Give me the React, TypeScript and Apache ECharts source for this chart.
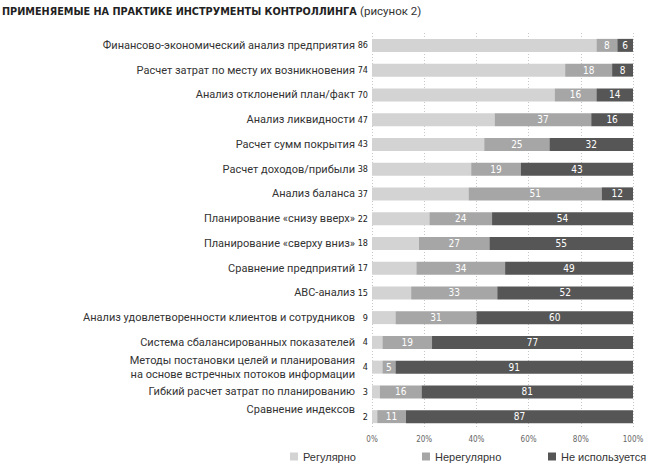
import React, { useEffect, useRef } from "react";
import * as echarts from "echarts";

const categories = [
  "Финансово-экономический анализ предприятия",
  "Расчет затрат по месту их возникновения",
  "Анализ отклонений план/факт",
  "Анализ ликвидности",
  "Расчет сумм покрытия",
  "Расчет доходов/прибыли",
  "Анализ баланса",
  "Планирование «снизу вверх»",
  "Планирование «сверху вниз»",
  "Сравнение предприятий",
  "АВС-анализ",
  "Анализ удовлетворенности клиентов и сотрудников",
  "Система сбалансированных показателей",
  "Методы постановки целей и планирования\nна основе встречных потоков информации",
  "Гибкий расчет затрат по планированию",
  "Сравнение индексов\n",
];

const regular = [86, 74, 70, 47, 43, 38, 37, 22, 18, 17, 15, 9, 4, 4, 3, 2];
const irregular = [8, 18, 16, 37, 25, 19, 51, 24, 27, 34, 33, 31, 19, 5, 16, 11];
const notUsed = [6, 8, 14, 16, 32, 43, 12, 54, 55, 49, 52, 60, 77, 91, 81, 87];

const seriesNames = ["Регулярно", "Нерегулярно", "Не используется"];
const xTicks = [0, 20, 40, 60, 80, 100];

const NUM_FONT = "'DejaVu Sans Condensed', 'Roboto', sans-serif";

export default function App() {
  const ref = useRef<HTMLDivElement>(null);

  useEffect(() => {
    if (!ref.current) return;
    const chart = echarts.init(ref.current, undefined, { renderer: "svg" });
    const colors = ["#d3d3d3", "#a6a6a6", "#565656"];
    const legendLefts = [290, 422, 548];
    chart.setOption({
      animation: false,
      color: colors,
      graphic: [
        {
          type: "text",
          left: 2,
          top: 5,
          style: {
            text: "{b|ПРИМЕНЯЕМЫЕ НА ПРАКТИКЕ ИНСТРУМЕНТЫ КОНТРОЛЛИНГА} {r|(рисунок 2)}",
            rich: {
              b: {
                fontFamily: "'DejaVu Sans', sans-serif",
                fontWeight: "bold",
                fontSize: 9.7,
                fill: "#222",
              },
              r: {
                fontFamily: "Roboto, sans-serif",
                fontSize: 11.5,
                fill: "#333",
              },
            },
          },
        },
      ],
      legend: seriesNames.map((name, i) => ({
        data: [name],
        left: legendLefts[i],
        top: 451,
        padding: 0,
        itemWidth: 8,
        itemHeight: 8,
        icon: "rect",
        textStyle: {
          fontFamily: "'Liberation Sans', Arial, sans-serif",
          fontSize: 11,
          color: "#333",
        },
      })),
      grid: {
        left: 372,
        right: 17,
        top: 33,
        bottom: 42,
        containLabel: false,
      },
      xAxis: {
        type: "value",
        min: 0,
        max: 100,
        interval: 20,
        axisLine: { show: false },
        axisTick: { show: false },
        splitLine: {
          show: true,
          lineStyle: { type: [1, 2], color: "#c8c8c8", width: 1 },
        },
        axisLabel: {
          formatter: (v: number) => (xTicks.includes(v) ? v + "%" : ""),
          fontFamily: NUM_FONT,
          fontSize: 8,
          color: "#666",
          margin: 6,
        },
      },
      yAxis: {
        type: "category",
        data: categories,
        inverse: true,
        axisLine: { show: false },
        axisTick: { show: false },
        axisLabel: {
          margin: 17,
          fontFamily: "Roboto, sans-serif",
          fontSize: 11,
          color: "#333",
          lineHeight: 14,
        },
      },
      series: [
        {
          name: seriesNames[0],
          type: "bar",
          stack: "total",
          barWidth: 13,
          data: regular,
          label: {
            show: true,
            position: "left",
            distance: 4,
            fontFamily: NUM_FONT,
            fontSize: 9,
            color: "#222",
          },
        },
        {
          name: seriesNames[1],
          type: "bar",
          stack: "total",
          barWidth: 13,
          data: irregular,
          label: {
            show: true,
            position: "inside",
            fontFamily: NUM_FONT,
            fontSize: 10,
            color: "#fff",
          },
        },
        {
          name: seriesNames[2],
          type: "bar",
          stack: "total",
          barWidth: 13,
          data: notUsed,
          label: {
            show: true,
            position: "inside",
            fontFamily: NUM_FONT,
            fontSize: 10,
            color: "#fff",
          },
        },
      ],
    });
    return () => chart.dispose();
  }, []);

  return (
    <div
      ref={ref}
      style={{ position: "absolute", left: 0, top: 0, width: 650, height: 471 }}
    />
  );
}
